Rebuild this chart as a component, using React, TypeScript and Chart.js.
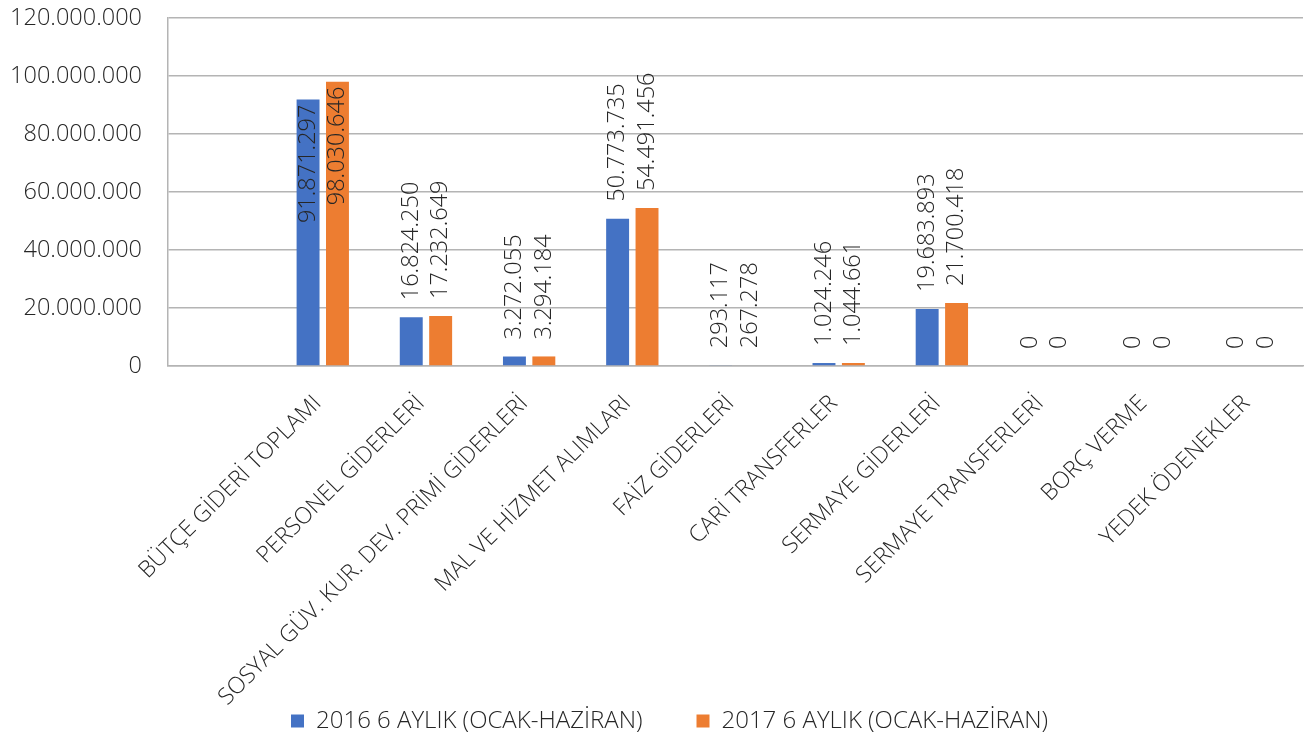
import React, { useEffect, useRef } from 'react';
import { Chart, registerables } from 'chart.js';

Chart.register(...registerables);

const categories: string[] = [
  '',
  'BÜTÇE GİDERİ TOPLAMI',
  'PERSONEL GİDERLERİ',
  'SOSYAL GÜV. KUR. DEV. PRİMİ GİDERLERİ',
  'MAL VE HİZMET ALIMLARI',
  'FAİZ GİDERLERİ',
  'CARİ TRANSFERLER',
  'SERMAYE GİDERLERİ',
  'SERMAYE TRANSFERLERİ',
  'BORÇ VERME',
  'YEDEK ÖDENEKLER',
];

const series2016: (number | null)[] = [null, 91871297, 16824250, 3272055, 50773735, 293117, 1024246, 19683893, 0, 0, 0];
const series2017: (number | null)[] = [null, 98030646, 17232649, 3294184, 54491456, 267278, 1044661, 21700418, 0, 0, 0];

const seriesNames = ['2016 6 AYLIK (OCAK-HAZİRAN)', '2017 6 AYLIK (OCAK-HAZİRAN)'];
const yTicks = [0, 20000000, 40000000, 60000000, 80000000, 100000000, 120000000];

const BLUE = '#4472C4';
const ORANGE = '#ED7D31';
const TEXT = '#262626';
const GRID = '#b4b4b4';
const FONT = '"Open Sans", "DejaVu Sans", sans-serif';
const WEIGHT = 300;

const fmt = (v: number) => String(v).replace(/\B(?=(\d{3})+(?!\d))/g, '.');

const LABEL_GAP = 17;
const LEGEND_CENTER_Y = 721;
const LEGEND_DX = 18;
const LEGEND_BOX_H = 16;
const LEGEND_FS = 24;

const barLabels = {
  id: 'barLabels',
  afterDatasetsDraw(chart: any) {
    const ctx = chart.ctx;
    const area = chart.chartArea;
    ctx.save();
    ctx.font = `${WEIGHT} 23.5px ${FONT}`;
    ctx.fillStyle = TEXT;
    ctx.textBaseline = 'middle';
    chart.data.datasets.forEach((ds: any, di: number) => {
      const meta = chart.getDatasetMeta(di);
      meta.data.forEach((bar: any, i: number) => {
        const v = ds.data[i];
        if (v === null || v === undefined) return;
        const text = fmt(v);
        const w = ctx.measureText(text).width;
        ctx.save();
        if (bar.y - LABEL_GAP - w < area.top) {
          ctx.translate(bar.x, bar.y + 5);
          ctx.rotate(-Math.PI / 2);
          ctx.textAlign = 'right';
        } else {
          ctx.translate(bar.x, bar.y - LABEL_GAP);
          ctx.rotate(-Math.PI / 2);
          ctx.textAlign = 'left';
        }
        ctx.fillText(text, 0, 0);
        ctx.restore();
      });
    });
    ctx.restore();
  },
};

const legendShift = {
  id: 'legendShift',
  beforeLayout(chart: any) {
    const l = chart.legend;
    if (!l || l.__patched) return;
    const origFit = l.fit.bind(l);
    l.fit = function () {
      origFit();
      this.height = LEGEND_BOX_H;
    };
    l.__patched = true;
  },
  afterLayout(chart: any) {
    const l = chart.legend;
    if (!l) return;
    const pad = l.options.labels.padding;
    const dy = LEGEND_CENTER_Y - (l.top + pad + LEGEND_FS / 2);
    l.top += dy;
    l.bottom = chart.height + 200;
    l.height = l.bottom - l.top;
    l.left += LEGEND_DX;
    l.right += LEGEND_DX;
  },
};

export default function App() {
  const ref = useRef<HTMLCanvasElement | null>(null);

  useEffect(() => {
    document.body.style.margin = '0';
    const canvas = ref.current;
    if (!canvas) return;
    const chart = new Chart(canvas, {
      type: 'bar',
      data: {
        labels: categories,
        datasets: [
          {
            label: seriesNames[0],
            data: series2016,
            backgroundColor: BLUE,
            categoryPercentage: 0.57,
            barPercentage: 0.78,
          },
          {
            label: seriesNames[1],
            data: series2017,
            backgroundColor: ORANGE,
            categoryPercentage: 0.57,
            barPercentage: 0.78,
          },
        ],
      },
      options: {
        responsive: false,
        animation: false,
        layout: { padding: { top: 18, right: 4, left: 0, bottom: 0 } },
        plugins: {
          tooltip: { enabled: false },
          legend: {
            position: 'bottom',
            labels: {
              boxWidth: 13,
              boxHeight: 13,
              padding: 54,
              color: TEXT,
              font: { family: FONT, size: LEGEND_FS, weight: WEIGHT },
            },
          },
        },
        scales: {
          x: {
            grid: { display: false, drawTicks: false },
            border: { display: true, color: GRID, width: 1.5 },
            ticks: {
              autoSkip: false,
              minRotation: 45,
              maxRotation: 45,
              padding: 24,
              labelOffset: -5,
              color: TEXT,
              font: { family: FONT, size: 23, weight: WEIGHT },
            },
            afterFit(scale: any) {
              scale.height = 354;
            },
          },
          y: {
            min: 0,
            max: 120000000,
            afterBuildTicks(scale: any) {
              scale.ticks = yTicks.map((v) => ({ value: v }));
            },
            grid: { color: GRID, lineWidth: 1.5, drawTicks: false },
            border: { display: true, color: GRID, width: 1.5 },
            ticks: {
              padding: 26,
              color: TEXT,
              font: { family: FONT, size: 23.5, weight: WEIGHT },
              callback: (v: any) => fmt(Number(v)),
            },
            afterFit(scale: any) {
              scale.width = 168;
              scale.paddingTop = 0;
              scale.paddingBottom = 0;
            },
          },
        },
      },
      plugins: [barLabels, legendShift],
    });
    return () => chart.destroy();
  }, []);

  return (
    <div style={{ width: 1307, height: 736 }}>
      <canvas ref={ref} width={1307} height={736} style={{ display: 'block' }} />
    </div>
  );
}
